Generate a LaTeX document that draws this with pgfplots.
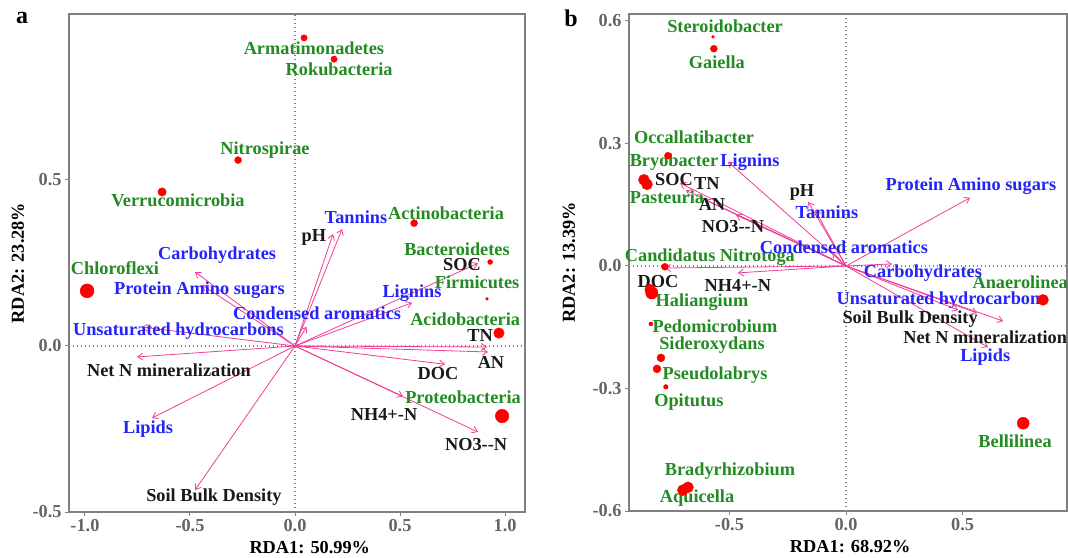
\documentclass[border=0pt]{standalone}
\usepackage{pgfplots}
\pgfplotsset{compat=1.18}
\usepackage{fontspec}
\setmainfont{Liberation Serif}
\usetikzlibrary{arrows.meta}
\definecolor{tgreen}{RGB}{34,139,34}
\definecolor{tblue}{RGB}{35,35,250}
\definecolor{tblack}{RGB}{25,25,25}
\definecolor{apink}{RGB}{240,60,150}
\definecolor{fgray}{RGB}{128,128,128}
\definecolor{tgray}{RGB}{100,100,100}
\definecolor{pred}{RGB}{255,0,0}
\newcommand\lab{\fontsize{18.3bp}{20bp}\selectfont\bfseries}
\pgfplotsset{
  rda/.style={
    scale only axis, clip=false,
    axis line style={draw=fgray, line width=1.3bp},
    tick style={draw=fgray, line width=1bp},
    major tick length=4bp, tick align=outside,
    xtick pos=bottom, ytick pos=left,
    ticklabel style={font=\lab, text=tgray},
    label style={font=\lab, text=black},
    xlabel style={anchor=center},
    ylabel style={anchor=center},
  },
  arr/.style={draw=apink, line width=0.8bp, no markers, -{Straight Barb[length=5bp,width=7bp]}},
  pts/.style={scatter, only marks, mark=*, point meta=explicit,
    scatter/use mapped color={draw=pred, fill=pred},
    visualization depends on={\thisrow{r}\as\rad},
    scatter/@pre marker code/.append style={/tikz/mark size=\rad}},
}
\tikzset{
  lg/.style={text=tgreen, font=\lab, inner sep=0pt},
  lb/.style={text=tblue, font=\lab, inner sep=0pt},
  lk/.style={text=tblack, font=\lab, inner sep=0pt},
}
\begin{document}
\begin{tikzpicture}
\useasboundingbox (0,0) rectangle (1068bp,558bp);
\node[font=\fontsize{24bp}{26bp}\selectfont\bfseries] at (22bp,540bp) {a};
\node[font=\fontsize{24bp}{26bp}\selectfont\bfseries] at (571bp,540bp) {b};
% ---------------- panel a
\begin{axis}[rda, at={(69bp,46bp)}, anchor=south west, width=456bp, height=498bp,
  xmin=-1.076, xmax=1.095, ymin=-0.5, ymax=1.0,
  xtick={-1,-0.5,0,0.5,1}, xticklabels={-1.0,-0.5,0.0,0.5,1.0},
  ytick={-0.5,0,0.5}, yticklabels={-0.5,0.0,0.5},
  xlabel={RDA1: 50.99\%}, ylabel={RDA2: 23.28\%},
  xlabel style={at={(axis description cs:0.528,-0.072)}},
  ylabel style={at={(axis description cs:-0.112,0.5)}}]
\draw[fgray, line width=1.2bp, dash pattern=on 1.2bp off 2.8bp] (axis cs:0,-0.5) -- (axis cs:0,1.0);
\draw[fgray, line width=1.2bp, dash pattern=on 1.2bp off 2.8bp] (axis cs:-1.076,0) -- (axis cs:1.095,0);
\addplot[arr] coordinates {(0,0) (0.181,0.337)};
\addplot[arr] coordinates {(0,0) (0.224,0.352)};
\addplot[arr] coordinates {(0,0) (0.055,0.058)};
\addplot[arr] coordinates {(0,0) (0.557,0.130)};
\addplot[arr] coordinates {(0,0) (0.871,0.249)};
\addplot[arr] coordinates {(0,0) (0.914,-0.003)};
\addplot[arr] coordinates {(0,0) (0.919,-0.018)};
\addplot[arr] coordinates {(0,0) (0.714,-0.055)};
\addplot[arr] coordinates {(0,0) (0.514,-0.152)};
\addplot[arr] coordinates {(0,0) (0.871,-0.259)};
\addplot[arr] coordinates {(0,0) (-0.476,-0.434)};
\addplot[arr] coordinates {(0,0) (-0.681,-0.217)};
\addplot[arr] coordinates {(0,0) (-0.752,-0.033)};
\addplot[arr] coordinates {(0,0) (-0.729,0.057)};
\addplot[arr] coordinates {(0,0) (-0.443,0.184)};
\addplot[arr] coordinates {(0,0) (-0.476,0.223)};
\addplot[pts] table[x=x,y=y,meta=r] {
x y r
0.043 0.928 3.2
0.186 0.864 3.2
-0.271 0.560 3.5
-0.633 0.464 4.2
-0.990 0.166 7
0.567 0.370 3.5
0.929 0.253 2.5
0.914 0.142 1.5
0.971 0.039 5.3
0.986 -0.211 6.8
};
\node[lg] at (axis cs:0.090,0.898) {Armatimonadetes};
\node[lg] at (axis cs:0.210,0.834) {Rokubacteria};
\node[lg] at (axis cs:-0.143,0.590) {Nitrospirae};
\node[lg] at (axis cs:-0.557,0.440) {Verrucomicrobia};
\node[lg] at (axis cs:0.719,0.401) {Actinobacteria};
\node[lg] at (axis cs:0.771,0.292) {Bacteroidetes};
\node[lg] at (axis cs:0.867,0.193) {Firmicutes};
\node[lg] at (axis cs:0.810,0.081) {Acidobacteria};
\node[lg] at (axis cs:0.800,-0.154) {Proteobacteria};
\node[lg] at (axis cs:-0.857,0.235) {Chloroflexi};
\node[lb] at (axis cs:0.290,0.389) {Tannins};
\node[lb] at (axis cs:-0.371,0.274) {Carbohydrates};
\node[lb] at (axis cs:-0.455,0.169) {Protein Amino sugars};
\node[lb] at (axis cs:0.105,0.099) {Condensed aromatics};
\node[lb] at (axis cs:-0.555,0.045) {Unsaturated hydrocarbons};
\node[lb] at (axis cs:0.557,0.160) {Lignins};
\node[lb] at (axis cs:-0.700,-0.250) {Lipids};
\node[lk] at (axis cs:0.090,0.328) {pH};
\node[lk] at (axis cs:0.795,0.244) {SOC};
\node[lk] at (axis cs:0.881,0.033) {TN};
\node[lk] at (axis cs:0.933,-0.051) {AN};
\node[lk] at (axis cs:0.681,-0.084) {DOC};
\node[lk] at (axis cs:0.424,-0.205) {NH4+-N};
\node[lk] at (axis cs:0.862,-0.298) {NO3-{}-N};
\node[lk] at (axis cs:-0.600,-0.072) {Net N mineralization};
\node[lk] at (axis cs:-0.386,-0.455) {Soil Bulk Density};
\end{axis}
% ---------------- panel b
\begin{axis}[rda, at={(629bp,47bp)}, anchor=south west, width=438bp, height=497bp,
  xmin=-0.931, xmax=0.948, ymin=-0.6, ymax=0.617,
  xtick={-0.5,0,0.5}, xticklabels={-0.5,0.0,0.5},
  ytick={-0.6,-0.3,0,0.3,0.6}, yticklabels={-0.6,-0.3,0.0,0.3,0.6},
  xlabel={RDA1: 68.92\%}, ylabel={RDA2: 13.39\%},
  xlabel style={at={(axis description cs:0.505,-0.072)}},
  ylabel style={at={(axis description cs:-0.137,0.5)}}]
\draw[fgray, line width=1.2bp, dash pattern=on 1.2bp off 2.8bp] (axis cs:0,-0.6) -- (axis cs:0,0.617);
\draw[fgray, line width=1.2bp, dash pattern=on 1.2bp off 2.8bp] (axis cs:-0.931,0) -- (axis cs:0.948,0);
\addplot[arr] coordinates {(0,0) (-0.506,0.255)};
\addplot[arr] coordinates {(0,0) (-0.712,0.203)};
\addplot[arr] coordinates {(0,0) (-0.687,0.185)};
\addplot[arr] coordinates {(0,0) (-0.605,0.162)};
\addplot[arr] coordinates {(0,0) (-0.472,0.125)};
\addplot[arr] coordinates {(0,0) (-0.163,0.157)};
\addplot[arr] coordinates {(0,0) (-0.133,0.137)};
\addplot[arr] coordinates {(0,0) (-0.060,0.035)};
\addplot[arr] coordinates {(0,0) (0.532,0.167)};
\addplot[arr] coordinates {(0,0) (0.197,0.005)};
\addplot[arr] coordinates {(0,0) (0.481,-0.108)};
\addplot[arr] coordinates {(0,0) (0.562,-0.115)};
\addplot[arr] coordinates {(0,0) (0.674,-0.135)};
\addplot[arr] coordinates {(0,0) (0.609,-0.199)};
\addplot[arr] coordinates {(0,0) (-0.777,-0.005)};
\addplot[arr] coordinates {(0,0) (-0.464,-0.017)};
\addplot[pts] table[x=x,y=y,meta=r] {
x y r
-0.571 0.561 1.5
-0.567 0.532 3.5
-0.764 0.270 3.5
-0.867 0.211 5.5
-0.854 0.200 5.5
-0.777 -0.002 3.5
-0.833 -0.066 6.2
-0.840 -0.058 5.5
-0.837 -0.142 2
-0.794 -0.225 4
-0.811 -0.252 4
-0.773 -0.296 2.3
-0.678 -0.542 5.5
-0.700 -0.549 5.5
0.845 -0.083 5.5
0.760 -0.385 6
};
\node[lg] at (axis cs:-0.519,0.586) {Steroidobacter};
\node[lg] at (axis cs:-0.554,0.498) {Gaiella};
\node[lg] at (axis cs:-0.652,0.316) {Occallatibacter};
\node[lg] at (axis cs:-0.738,0.255) {Bryobacter};
\node[lg] at (axis cs:-0.768,0.169) {Pasteuria};
\node[lg] at (axis cs:-0.584,0.022) {Candidatus Nitrotoga};
\node[lg] at (axis cs:-0.618,-0.088) {Haliangium};
\node[lg] at (axis cs:-0.562,-0.147) {Pedomicrobium};
\node[lg] at (axis cs:-0.575,-0.194) {Sideroxydans};
\node[lg] at (axis cs:-0.562,-0.267) {Pseudolabrys};
\node[lg] at (axis cs:-0.674,-0.333) {Opitutus};
\node[lg] at (axis cs:-0.498,-0.502) {Bradyrhizobium};
\node[lg] at (axis cs:-0.639,-0.569) {Aquicella};
\node[lg] at (axis cs:0.747,-0.039) {Anaerolinea};
\node[lg] at (axis cs:0.725,-0.429) {Bellilinea};
\node[lb] at (axis cs:-0.412,0.255) {Lignins};
\node[lb] at (axis cs:-0.082,0.132) {Tannins};
\node[lb] at (axis cs:-0.009,0.047) {Condensed aromatics};
\node[lb] at (axis cs:0.536,0.196) {Protein Amino sugars};
\node[lb] at (axis cs:0.330,-0.017) {Carbohydrates};
\node[lb] at (axis cs:0.412,-0.083) {Unsaturated hydrocarbons};
\node[lb] at (axis cs:0.597,-0.223) {Lipids};
\node[lk] at (axis cs:-0.738,0.211) {SOC};
\node[lk] at (axis cs:-0.597,0.203) {TN};
\node[lk] at (axis cs:-0.575,0.150) {AN};
\node[lk] at (axis cs:-0.485,0.096) {NO3-{}-N};
\node[lk] at (axis cs:-0.189,0.181) {pH};
\node[lk] at (axis cs:-0.807,-0.039) {DOC};
\node[lk] at (axis cs:-0.464,-0.047) {NH4+-N};
\node[lk] at (axis cs:0.275,-0.130) {Soil Bulk Density};
\node[lk] at (axis cs:0.597,-0.174) {Net N mineralization};
\end{axis}
\end{tikzpicture}
\end{document}
